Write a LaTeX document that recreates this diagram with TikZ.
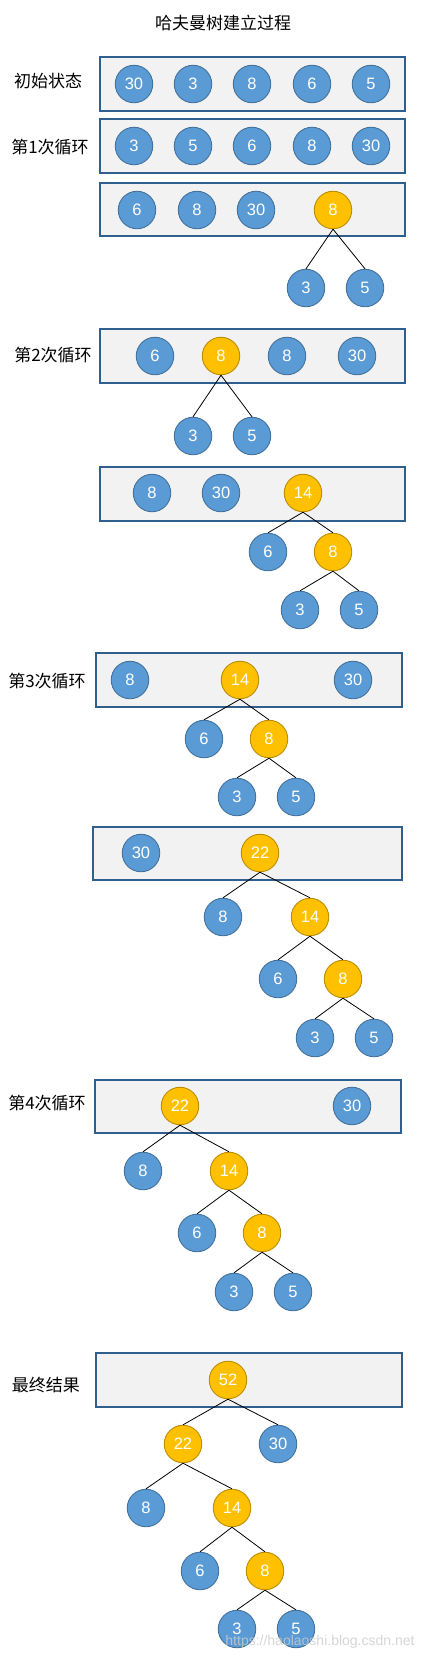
\documentclass[tikz,border=0pt]{standalone}
\usepackage{fontspec}
\setmainfont{Liberation Sans}
\newfontfamily\cjk{Noto Sans CJK SC}
\definecolor{bfill}{HTML}{5B9BD5}
\definecolor{bdraw}{HTML}{41719C}
\definecolor{ofill}{HTML}{FFC000}
\definecolor{odraw}{HTML}{BC8C00}
\definecolor{pfill}{HTML}{F2F2F2}
\definecolor{pdraw}{HTML}{2F5F8F}
\tikzset{
  bn/.style={circle,fill=bfill,draw=bdraw,line width=0.9pt,minimum size=37.5pt,inner sep=0pt,text=white,font=\fontsize{16.5}{16.5}\selectfont},
  on/.style={bn,fill=ofill,draw=odraw},
  panel/.style={rectangle,fill=pfill,draw=pdraw,line width=1.1pt,inner sep=0pt},
  lbl/.style={font=\cjk\fontsize{17}{17}\selectfont,text=black},
  edge/.style={draw=black,line width=0.8pt}
}
\begin{document}
\begin{tikzpicture}[x=1pt,y=-1pt]
\useasboundingbox[fill=white] (0,0) rectangle (436,1660);
% title
\node[lbl] (title) at (223,23) {哈夫曼树建立过程};
% panels
\node[panel,minimum width=305pt,minimum height=54pt] (p1) at (252.5,84) {};
\node[panel,minimum width=305pt,minimum height=54pt] (p2) at (252.5,146) {};
\node[panel,minimum width=305pt,minimum height=53pt] (p3) at (252.5,209.5) {};
\node[panel,minimum width=305pt,minimum height=54pt] (p4) at (252.5,356) {};
\node[panel,minimum width=305pt,minimum height=54pt] (p5) at (252.5,494) {};
\node[panel,minimum width=306pt,minimum height=54pt] (p6) at (249,680) {};
\node[panel,minimum width=309pt,minimum height=53pt] (p7) at (247.5,853.5) {};
\node[panel,minimum width=306pt,minimum height=53pt] (p8) at (248,1106.5) {};
\node[panel,minimum width=306pt,minimum height=54pt] (p9) at (249,1380) {};
% labels
\node[lbl] (l1) at (48,81) {初始状态};
\node[lbl] (l2) at (50,147) {第1次循环};
\node[lbl] (l3) at (53,355) {第2次循环};
\node[lbl] (l4) at (47,681) {第3次循环};
\node[lbl] (l5) at (47,1103) {第4次循环};
\node[lbl] (l6) at (46,1385) {最终结果};
% row 1
\node[bn] (a1) at (134,84) {30};
\node[bn] (a2) at (193,84) {3};
\node[bn] (a3) at (252,84) {8};
\node[bn] (a4) at (312,84) {6};
\node[bn] (a5) at (371,84) {5};
% row 2
\node[bn] (b1) at (134,146) {3};
\node[bn] (b2) at (193,146) {5};
\node[bn] (b3) at (252,146) {6};
\node[bn] (b4) at (312,146) {8};
\node[bn] (b5) at (371,146) {30};
% row 3
\node[bn] (c1) at (137,210) {6};
\node[bn] (c2) at (197,210) {8};
\node[bn] (c3) at (256,210) {30};
\node[on] (c4) at (333,210) {8};
\node[bn] (c5) at (306,288) {3};
\node[bn] (c6) at (365,288) {5};
\draw[edge] (c4.south) -- (c5.north);
\draw[edge] (c4.south) -- (c6.north);
% row 4
\node[bn] (d1) at (155,356) {6};
\node[on] (d2) at (221,356) {8};
\node[bn] (d3) at (287,356) {8};
\node[bn] (d4) at (357,356) {30};
\node[bn] (d5) at (193,436) {3};
\node[bn] (d6) at (252,436) {5};
\draw[edge] (d2.south) -- (d5.north);
\draw[edge] (d2.south) -- (d6.north);
% row 5
\node[bn] (e1) at (152,493) {8};
\node[bn] (e2) at (221,493) {30};
\node[on] (e3) at (303,493) {14};
\node[bn] (e4) at (268,552) {6};
\node[on] (e5) at (333,552) {8};
\node[bn] (e6) at (300,610) {3};
\node[bn] (e7) at (359,610) {5};
\draw[edge] (e3.south) -- (e4.north);
\draw[edge] (e3.south) -- (e5.north);
\draw[edge] (e5.south) -- (e6.north);
\draw[edge] (e5.south) -- (e7.north);
% row 6
\node[bn] (f1) at (130,680) {8};
\node[on] (f2) at (240,680) {14};
\node[bn] (f3) at (353,680) {30};
\node[bn] (f4) at (204,739) {6};
\node[on] (f5) at (269,739) {8};
\node[bn] (f6) at (237,797) {3};
\node[bn] (f7) at (296,797) {5};
\draw[edge] (f2.south) -- (f4.north);
\draw[edge] (f2.south) -- (f5.north);
\draw[edge] (f5.south) -- (f6.north);
\draw[edge] (f5.south) -- (f7.north);
% row 7
\node[bn] (g1) at (141,853) {30};
\node[on] (g2) at (260,853) {22};
\node[bn] (g3) at (223,917) {8};
\node[on] (g4) at (310,917) {14};
\node[bn] (g5) at (278,979) {6};
\node[on] (g6) at (343,979) {8};
\node[bn] (g7) at (315,1038) {3};
\node[bn] (g8) at (374,1038) {5};
\draw[edge] (g2.south) -- (g3.north);
\draw[edge] (g2.south) -- (g4.north);
\draw[edge] (g4.south) -- (g5.north);
\draw[edge] (g4.south) -- (g6.north);
\draw[edge] (g6.south) -- (g7.north);
\draw[edge] (g6.south) -- (g8.north);
% row 8
\node[on] (h1) at (180,1106) {22};
\node[bn] (h2) at (352,1106) {30};
\node[bn] (h3) at (143,1171) {8};
\node[on] (h4) at (229,1171) {14};
\node[bn] (h5) at (197,1233) {6};
\node[on] (h6) at (262,1233) {8};
\node[bn] (h7) at (234,1292) {3};
\node[bn] (h8) at (293,1292) {5};
\draw[edge] (h1.south) -- (h3.north);
\draw[edge] (h1.south) -- (h4.north);
\draw[edge] (h4.south) -- (h5.north);
\draw[edge] (h4.south) -- (h6.north);
\draw[edge] (h6.south) -- (h7.north);
\draw[edge] (h6.south) -- (h8.north);
% row 9
\node[on] (k1) at (228,1380) {52};
\node[on] (k2) at (183,1444) {22};
\node[bn] (k3) at (278,1444) {30};
\node[bn] (k4) at (146,1508) {8};
\node[on] (k5) at (232,1508) {14};
\node[bn] (k6) at (200,1571) {6};
\node[on] (k7) at (265,1571) {8};
\node[bn] (k8) at (237,1629) {3};
\node[bn] (k9) at (296,1629) {5};
\draw[edge] (k1.south) -- (k2.north);
\draw[edge] (k1.south) -- (k3.north);
\draw[edge] (k2.south) -- (k4.north);
\draw[edge] (k2.south) -- (k5.north);
\draw[edge] (k5.south) -- (k6.north);
\draw[edge] (k5.south) -- (k7.north);
\draw[edge] (k7.south) -- (k8.north);
\draw[edge] (k7.south) -- (k9.north);
% watermark
\node[text=gray!40,opacity=0.8,font=\fontsize{14}{14}\selectfont] (wm) at (320,1642) {https://haolaoshi.blog.csdn.net};
\end{tikzpicture}
\end{document}
